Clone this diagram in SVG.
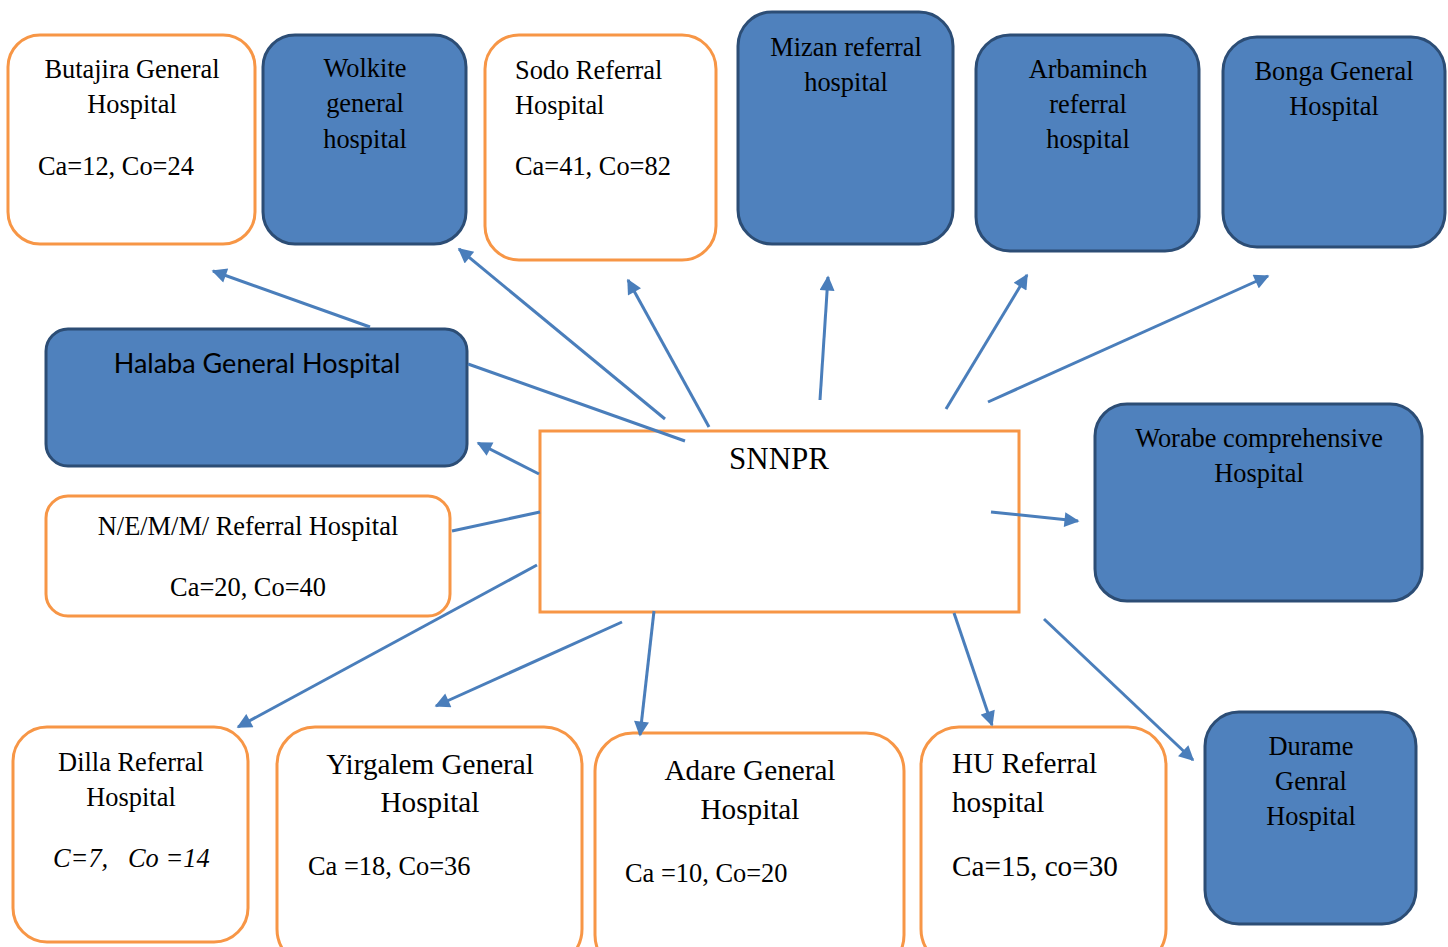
<svg xmlns="http://www.w3.org/2000/svg" width="1448" height="947" viewBox="0 0 1448 947">
<style>
.o{fill:#ffffff;stroke:#f79646;stroke-width:3}
.b{fill:#4f81bd;stroke:#2c4d75;stroke-width:3}
.t{font-family:"Liberation Serif","Times New Roman",serif;font-size:26.4px;fill:#000}
.L{font-size:29.2px}
.c{text-anchor:middle}
.s{font-family:Lato,"Liberation Sans",sans-serif;font-size:27px;fill:#000}
.e{stroke:#4a7ebb;stroke-width:3;fill:none}
.a{marker-end:url(#ar)}
</style>
<defs>
<marker id="ar" viewBox="0 0 10 10" refX="9" refY="5" markerWidth="17" markerHeight="15" markerUnits="userSpaceOnUse" orient="auto">
<path d="M0,0 L10,5 L0,10 z" fill="#4a7ebb"/>
</marker>
</defs>
<rect width="1448" height="947" fill="#ffffff"/>
<g id="butajira">
<rect class="o" x="8" y="35" width="247" height="209" rx="32"/>
<text class="t c" x="132" y="78">Butajira General</text>
<text class="t c" x="132" y="113">Hospital</text>
<text class="t" x="38" y="175">Ca=12, Co=24</text>
</g>
<g id="wolkite">
<rect class="b" x="263" y="35" width="203" height="209" rx="32"/>
<text class="t c" x="365" y="77">Wolkite</text>
<text class="t c" x="365" y="112">general</text>
<text class="t c" x="365" y="148">hospital</text>
</g>
<g id="sodo">
<rect class="o" x="485" y="35" width="231" height="225" rx="34"/>
<text class="t" x="515" y="79">Sodo Referral</text>
<text class="t" x="515" y="114">Hospital</text>
<text class="t" x="515" y="175">Ca=41, Co=82</text>
</g>
<g id="mizan">
<rect class="b" x="738" y="12" width="215" height="232" rx="34"/>
<text class="t c" x="846" y="56">Mizan referral</text>
<text class="t c" x="846" y="91">hospital</text>
</g>
<g id="arbaminch">
<rect class="b" x="976" y="35" width="223" height="216" rx="34"/>
<text class="t c" x="1088" y="78">Arbaminch</text>
<text class="t c" x="1088" y="113">referral</text>
<text class="t c" x="1088" y="148">hospital</text>
</g>
<g id="bonga">
<rect class="b" x="1223" y="37" width="222" height="210" rx="34"/>
<text class="t c" x="1334" y="80">Bonga General</text>
<text class="t c" x="1334" y="115">Hospital</text>
</g>
<g id="halaba">
<rect class="b" x="46" y="329" width="421" height="137" rx="22"/>
<text class="s c" x="257" y="373">Halaba General Hospital</text>
</g>
<g id="nemm">
<rect class="o" x="46" y="496" width="404" height="120" rx="22"/>
<text class="t c" x="248" y="535">N/E/M/M/ Referral Hospital</text>
<text class="t c" x="248" y="596">Ca=20, Co=40</text>
</g>
<g id="snnpr">
<rect x="540" y="431" width="479" height="181" fill="#ffffff" stroke="#f79646" stroke-width="3"/>
<text class="t c" x="779" y="469" style="font-size:31px">SNNPR</text>
</g>
<g id="worabe">
<rect class="b" x="1095" y="404" width="327" height="197" rx="32"/>
<text class="t c" x="1259" y="447">Worabe comprehensive</text>
<text class="t c" x="1259" y="482">Hospital</text>
</g>
<g id="dilla">
<rect class="o" x="13" y="727" width="235" height="215" rx="34"/>
<text class="t c" x="131" y="771">Dilla Referral</text>
<text class="t c" x="131" y="806">Hospital</text>
<text class="t" x="53" y="867" style="font-style:italic" xml:space="preserve">C=7,   Co =14</text>
</g>
<g id="yirgalem">
<rect class="o" x="277" y="727" width="305" height="240" rx="38"/>
<text class="t c L" x="430" y="774">Yirgalem General</text>
<text class="t c L" x="430" y="812">Hospital</text>
<text class="t" x="308" y="875">Ca =18, Co=36</text>
</g>
<g id="adare">
<rect class="o" x="595" y="733" width="309" height="240" rx="38"/>
<text class="t c L" x="750" y="780">Adare General</text>
<text class="t c L" x="750" y="819">Hospital</text>
<text class="t" x="625" y="882">Ca =10, Co=20</text>
</g>
<g id="hu">
<rect class="o" x="921" y="727" width="245" height="240" rx="38"/>
<text class="t L" x="952" y="773">HU Referral</text>
<text class="t L" x="952" y="812">hospital</text>
<text class="t L" x="952" y="876">Ca=15, co=30</text>
</g>
<g id="durame">
<rect class="b" x="1205" y="712" width="211" height="212" rx="34"/>
<text class="t c" x="1311" y="755">Durame</text>
<text class="t c" x="1311" y="790">Genral</text>
<text class="t c" x="1311" y="825">Hospital</text>
</g>
<g id="connectors">
<line class="e a" x1="370" y1="327" x2="213" y2="271"/>
<line class="e a" x1="665" y1="419" x2="459" y2="249"/>
<line class="e a" x1="709" y1="427" x2="628" y2="280"/>
<line class="e a" x1="820" y1="400" x2="828" y2="277"/>
<line class="e a" x1="946" y1="409" x2="1027" y2="275"/>
<line class="e a" x1="988" y1="402" x2="1268" y2="276"/>
<line class="e" x1="468" y1="364" x2="685" y2="441"/>
<line class="e a" x1="539" y1="474" x2="478" y2="443"/>
<line class="e" x1="540" y1="512" x2="452" y2="531"/>
<line class="e a" x1="537" y1="565" x2="238" y2="727"/>
<line class="e a" x1="622" y1="622" x2="436" y2="706"/>
<line class="e a" x1="654" y1="611" x2="640" y2="735"/>
<line class="e a" x1="954" y1="613" x2="992" y2="725"/>
<line class="e a" x1="1044" y1="619" x2="1193" y2="760"/>
<line class="e a" x1="991" y1="512" x2="1078" y2="521"/>
</g>
</svg>
